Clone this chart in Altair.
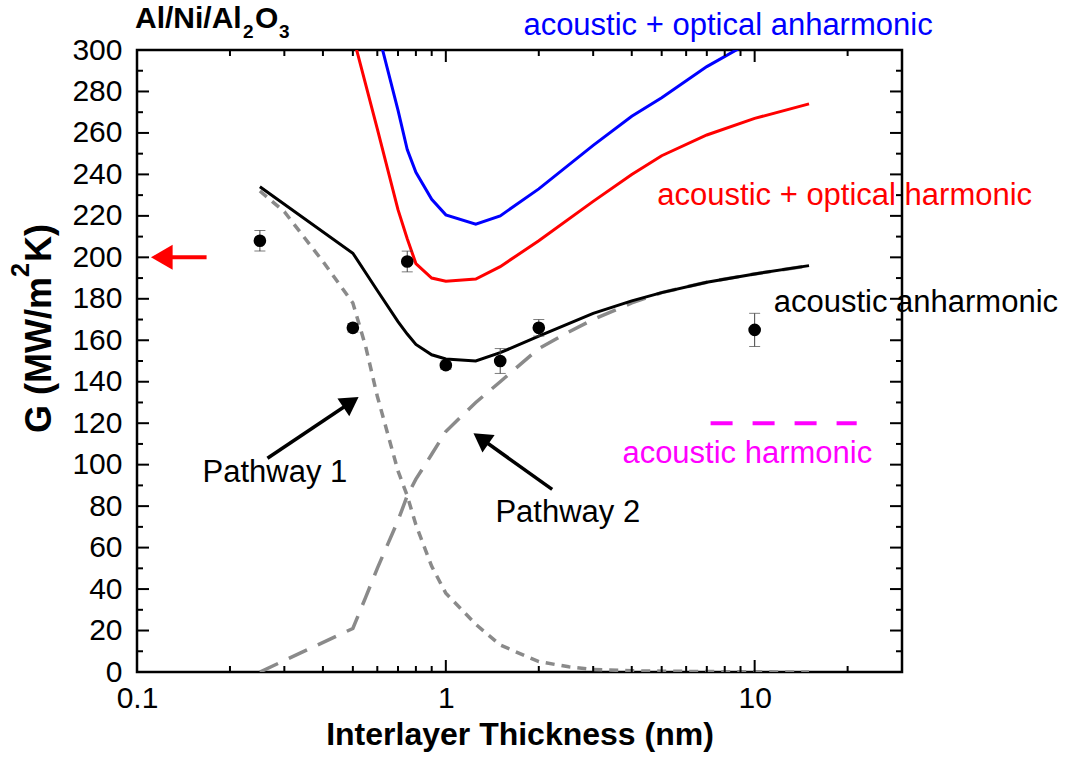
import altair as alt
import pandas as pd

FONT = "Liberation Sans"
W, H = 765, 622

# ---------------- data ----------------
exp_x = [0.25, 0.5, 0.75, 1.0, 1.5, 2.0, 10.0]
exp_y = [208, 166, 198, 148, 150, 166, 165]
exp_err = [5, 2, 5, 2, 6, 4, 8]

aa_x = [0.25, 0.5, 0.6, 0.7, 0.75, 0.8, 0.9, 1.0, 1.25, 1.5, 2, 3, 4, 5, 7, 10, 15]
aa_y = [234, 202, 184, 169, 163, 158, 153, 151, 150, 154, 162, 173, 179, 183, 188, 192, 196]

aoh_x = [0.5, 0.6, 0.7, 0.75, 0.8, 0.9, 1.0, 1.25, 1.5, 2, 3, 4, 5, 7, 10, 15]
aoh_y = [307, 262, 223, 209, 197, 190, 188.5, 189.5, 195.5, 208, 227, 240, 249, 259, 267, 274]

aoa_x = [0.6, 0.7, 0.75, 0.8, 0.9, 1.0, 1.25, 1.5, 2, 3, 4, 5, 7, 10, 15]
aoa_y = [310, 271, 252, 241, 228, 220.5, 216, 220, 233, 254, 268, 277, 292, 305, 318]

p1_x = [0.25, 0.3, 0.4, 0.5, 0.55, 0.6, 0.7, 0.75, 0.8, 0.9, 1.0, 1.25, 1.5, 2, 2.5, 3, 4, 5, 7, 10, 15]
p1_y = [232, 222, 198, 178, 157, 133, 97, 85, 71, 51, 38, 23, 13, 5, 2.5, 1.2, 0.6, 0.4, 0.2, 0.1, 0]

p2_x = [0.25, 0.5, 0.55, 0.6, 0.7, 0.75, 0.8, 0.9, 1.0, 1.25, 1.5, 2, 2.5, 3, 4, 5, 7, 10, 15]
p2_y = [0, 21, 36, 50, 73, 85, 93, 105, 116, 130, 140, 156, 164, 170, 178, 183, 188, 192, 196]

ah_x = [7.2, 21.4]
ah_y = [120, 120]

x_major = [0.1, 1, 10]
x_minor = [0.2, 0.3, 0.4, 0.5, 0.6, 0.7, 0.8, 0.9, 2, 3, 4, 5, 6, 7, 8, 9, 20]
y_major = list(range(0, 301, 20))
y_minor = list(range(10, 300, 20))

# annotations
labels_t = ["acoustic + optical anharmonic", "acoustic + optical harmonic",
            "acoustic anharmonic", "acoustic harmonic", "Pathway 1", "Pathway 2"]
labels_x = [1.783, 4.84, 11.53, 3.73, 0.163, 1.447]
labels_y = [307.2, 225.2, 173.8, 100.7, 91.8, 72.3]
labels_c = ["#0000FF", "#FF0000", "#000000", "#FF00FF", "#000000", "#000000"]

arrows_x1 = [0.2645, 2.21]
arrows_y1 = [103.1, 88.1]
arrows_x2 = [0.493, 1.30]
arrows_y2 = [130.1, 112.6]
arrow_angle = [56, 305]

red_arrow_x = [0.128, 0.168]
red_arrow_y = 200
red_head_x = 0.1203

# title pieces (text, font size, x offset, baseline y) and y-axis title pieces
title_parts = ["Al/Ni/Al", "2", "O", "3"]
ytitle_parts = ["G (MW/m", "2", "K)"]

# ---------------- encodings ----------------
xs = alt.Scale(type="log", domain=[0.1, 30], nice=False)
ys = alt.Scale(domain=[0, 300], nice=False, zero=False)

xaxis = alt.Axis(values=x_major, format="~g", title="Interlayer Thickness (nm)",
                 ticks=False, domain=False, grid=False, labelFont=FONT, labelFontSize=30,
                 labelColor="black", labelPadding=11, labelFlush=False,
                 titleFont=FONT, titleFontSize=32, titleFontWeight="bold",
                 titleColor="black", titlePadding=6)
yaxis = alt.Axis(values=y_major, title=None, ticks=False, domain=False, grid=False,
                 labelFont=FONT, labelFontSize=30, labelColor="black", labelPadding=15,
                 labelFlush=False)


def X(f):
    return alt.X(f, type="quantitative", scale=xs, axis=xaxis)


def Y(f):
    return alt.Y(f, type="quantitative", scale=ys, axis=yaxis)


def line(xv, yv, color, width, dash=None):
    df = pd.DataFrame({"x": xv, "y": yv})
    kw = dict(color=color, strokeWidth=width, clip=True)
    if dash:
        kw["strokeDash"] = dash
    return alt.Chart(df).mark_line(**kw).encode(x=X("x"), y=Y("y"))


layers = []
layers.append(line(p1_x, p1_y, "#8a8a8a", 3.5, [9, 7]))
layers.append(line(p2_x, p2_y, "#8a8a8a", 3.5, [20, 12]))
layers.append(line(aoa_x, aoa_y, "#0000FF", 3))
layers.append(line(aoh_x, aoh_y, "#FF0000", 3))
layers.append(line(aa_x, aa_y, "#000000", 3))

# acoustic harmonic (magenta dashed)
ah_df = pd.DataFrame({"x": [ah_x[0]], "x2": [ah_x[1]], "y": [ah_y[0]]})
layers.append(alt.Chart(ah_df).mark_rule(color="#FF00FF", strokeWidth=4, strokeDash=[22, 20])
              .encode(x=X("x"), x2="x2", y=Y("y")))

# experimental points with error bars
exp_df = pd.DataFrame({"x": exp_x, "y": exp_y,
                       "lo": [a - b for a, b in zip(exp_y, exp_err)],
                       "hi": [a + b for a, b in zip(exp_y, exp_err)]})
layers.append(alt.Chart(exp_df).mark_rule(color="#444444", strokeWidth=1)
              .encode(x=X("x"), y=Y("lo"), y2="hi"))
layers.append(alt.Chart(exp_df).mark_tick(orient="horizontal", size=11, thickness=1, color="#444444")
              .encode(x=X("x"), y=Y("lo")))
layers.append(alt.Chart(exp_df).mark_tick(orient="horizontal", size=11, thickness=1, color="#444444")
              .encode(x=X("x"), y=Y("hi")))
layers.append(alt.Chart(exp_df).mark_circle(size=160, color="black", opacity=1)
              .encode(x=X("x"), y=Y("y")))

# black arrows
arr_df = pd.DataFrame({"x": arrows_x1, "y": arrows_y1, "x2": arrows_x2, "y2": arrows_y2})
layers.append(alt.Chart(arr_df).mark_rule(color="black", strokeWidth=3.5)
              .encode(x=X("x"), y=Y("y"), x2="x2", y2="y2"))
for i in range(2):
    hd = pd.DataFrame({"x": [arrows_x2[i]], "y": [arrows_y2[i]]})
    layers.append(alt.Chart(hd).mark_point(shape="triangle-up", filled=True, size=450,
                                           color="black", opacity=1, angle=arrow_angle[i])
                  .encode(x=X("x"), y=Y("y")))

# red arrow
ra_df = pd.DataFrame({"x": [red_arrow_x[0]], "x2": [red_arrow_x[1]], "y": [red_arrow_y]})
layers.append(alt.Chart(ra_df).mark_rule(color="#FF0000", strokeWidth=4)
              .encode(x=X("x"), x2="x2", y=Y("y")))
rh_df = pd.DataFrame({"x": [red_head_x], "y": [red_arrow_y]})
layers.append(alt.Chart(rh_df).mark_point(shape="triangle-left", filled=True, size=625,
                                          color="#FF0000", opacity=1)
              .encode(x=X("x"), y=Y("y")))

# text labels
lab_df = pd.DataFrame({"x": labels_x, "y": labels_y, "t": labels_t, "c": labels_c})
layers.append(alt.Chart(lab_df).mark_text(font=FONT, fontSize=31, align="left", baseline="alphabetic")
              .encode(x=X("x"), y=Y("y"), text="t:N", color=alt.Color("c:N", scale=None)))


def txt(t, size, px, py, angle=0):
    kw = dict(font=FONT, fontSize=size, fontWeight="bold", align="left", baseline="alphabetic")
    if angle:
        kw["angle"] = angle
    return (alt.Chart(pd.DataFrame({"t": [t]})).mark_text(**kw)
            .encode(x=alt.value(px), y=alt.value(py), text="t:N"))


# plot title  Al/Ni/Al2O3 with subscripts
layers.append(txt(title_parts[0], 30, -2, -22))
layers.append(txt(title_parts[1], 19, 106, -12))
layers.append(txt(title_parts[2], 30, 118, -22))
layers.append(txt(title_parts[3], 19, 142, -12))

# y-axis title  G (MW/m^2K), rotated
layers.append(txt(ytitle_parts[0], 36, -86, 383, 270))
layers.append(txt(ytitle_parts[1], 25, -108, 227, 270))
layers.append(txt(ytitle_parts[2], 36, -86, 212, 270))


# inward ticks
def xticks(vals, length):
    df = pd.DataFrame({"x": vals})
    b = alt.Chart(df).mark_rule(color="black", strokeWidth=2).encode(
        x=X("x"), y=alt.value(H), y2=alt.value(H - length))
    t = alt.Chart(df).mark_rule(color="black", strokeWidth=2).encode(
        x=X("x"), y=alt.value(0), y2=alt.value(length))
    return [b, t]


def yticks(vals, length):
    df = pd.DataFrame({"y": vals})
    l = alt.Chart(df).mark_rule(color="black", strokeWidth=2).encode(
        y=Y("y"), x=alt.value(0), x2=alt.value(length))
    r = alt.Chart(df).mark_rule(color="black", strokeWidth=2).encode(
        y=Y("y"), x=alt.value(W), x2=alt.value(W - length))
    return [l, r]


layers += xticks(x_major, 12) + xticks(x_minor, 6) + yticks(y_major, 12) + yticks(y_minor, 6)

chart = (alt.layer(*layers)
         .properties(width=W, height=H, autosize=alt.AutoSizeParams(type="none"),
                     padding={"left": 137, "top": 50, "right": 1066 - 137 - W, "bottom": 764 - 50 - H},
                     background="white")
         .configure_view(stroke="black", strokeWidth=2.5))

chart.save("out.html", embed_options={"renderer": "svg", "actions": False})
